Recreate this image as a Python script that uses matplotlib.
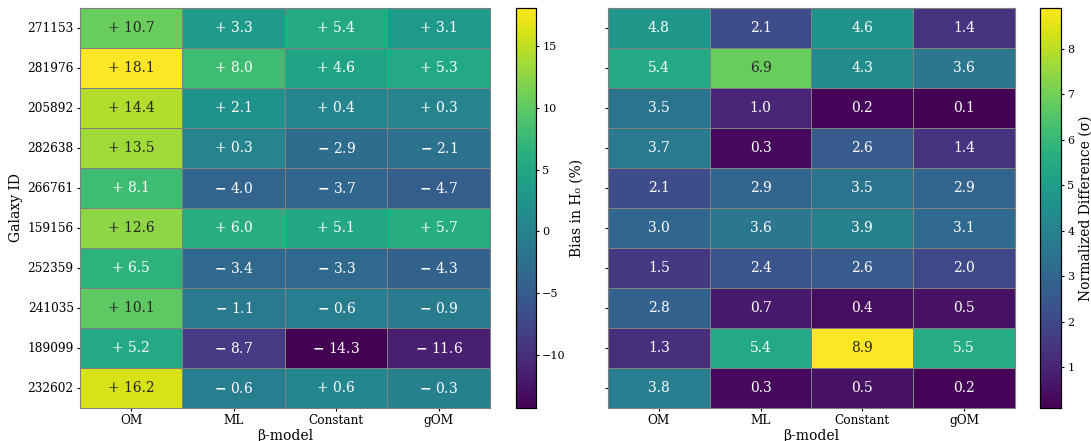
import numpy as np
import matplotlib
matplotlib.use("Agg")
import matplotlib.pyplot as plt
import seaborn as sns

galaxy_ids = ["271153", "281976", "205892", "282638", "266761",
              "159156", "252359", "241035", "189099", "232602"]
models = ["OM", "ML", "Constant", "gOM"]

# bias in H0 (%)
bias = np.array([
    [10.7, 3.3, 5.4, 3.1],
    [18.1, 8.0, 4.6, 5.3],
    [14.4, 2.1, 0.4, 0.3],
    [13.5, 0.3, -2.9, -2.1],
    [8.1, -4.0, -3.7, -4.7],
    [12.6, 6.0, 5.1, 5.7],
    [6.5, -3.4, -3.3, -4.3],
    [10.1, -1.1, -0.6, -0.9],
    [5.2, -8.7, -14.3, -11.6],
    [16.2, -0.6, 0.6, -0.3],
])

# normalized difference (sigma)
ndiff = np.array([
    [4.8, 2.1, 4.6, 1.4],
    [5.4, 6.9, 4.3, 3.6],
    [3.5, 1.0, 0.2, 0.1],
    [3.7, 0.3, 2.6, 1.4],
    [2.1, 2.9, 3.5, 2.9],
    [3.0, 3.6, 3.9, 3.1],
    [1.5, 2.4, 2.6, 2.0],
    [2.8, 0.7, 0.4, 0.5],
    [1.3, 5.4, 8.9, 5.5],
    [3.8, 0.3, 0.5, 0.2],
])

plt.rcParams["font.family"] = "DejaVu Serif"
plt.rcParams["mathtext.fontset"] = "dejavuserif"

bias_txt = np.array([[("+ " if v >= 0 else "$\\mathbf{-}$ ") + f"{abs(v):.1f}" for v in row]
                     for row in bias])
ndiff_txt = np.array([[f"{v:.1f}" for v in row] for row in ndiff])

fig = plt.figure(figsize=(10.91, 4.41), dpi=100)
ax1 = fig.add_axes([0.0733, 0.0748, 0.3758, 0.907])
cax1 = fig.add_axes([0.473, 0.0748, 0.0183, 0.907])
ax2 = fig.add_axes([0.5573, 0.0748, 0.373, 0.907])
cax2 = fig.add_axes([0.9533, 0.0748, 0.0192, 0.907])

annot_kw = {"fontsize": 10}
sns.heatmap(bias, ax=ax1, cbar_ax=cax1, cmap="viridis", annot=bias_txt, fmt="",
            annot_kws=annot_kw, linewidths=0.6, linecolor="gray",
            xticklabels=models, yticklabels=galaxy_ids)
sns.heatmap(ndiff, ax=ax2, cbar_ax=cax2, cmap="viridis", annot=ndiff_txt, fmt="",
            annot_kws=annot_kw, linewidths=0.6, linecolor="gray",
            xticklabels=models, yticklabels=False)

ax1.set_ylabel("Galaxy ID", fontsize=10, labelpad=3)
ax1.set_xlabel("\u03b2-model", fontsize=10, labelpad=1)
ax2.set_xlabel("\u03b2-model", fontsize=10, labelpad=1)
ax2.set_yticks(np.arange(len(galaxy_ids)) + 0.5)
ax2.set_yticklabels([])

for ax in (ax1, ax2):
    ax.tick_params(labelsize=8.7, length=2.5, pad=2)
    plt.setp(ax.get_yticklabels(), rotation=0)
    for s in ax.spines.values():
        s.set_visible(True)
        s.set_color("gray")
        s.set_linewidth(0.8)

for cax, lab in ((cax1, "Bias in H\u2080 (%)"), (cax2, "Normalized Difference (\u03c3)")):
    cax.tick_params(labelsize=8, length=2.5, pad=2)
    cax.set_ylabel(lab, fontsize=10, labelpad=3)
    for s in cax.spines.values():
        s.set_visible(True)
        s.set_color("black")
        s.set_linewidth(0.8)

fig.savefig("out.png", dpi=100)
